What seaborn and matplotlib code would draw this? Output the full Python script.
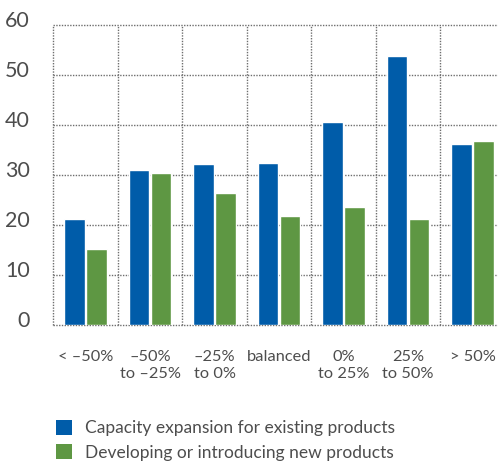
import matplotlib
matplotlib.use("Agg")
import matplotlib.pyplot as plt
import matplotlib.transforms as mtransforms
from matplotlib.patches import Patch
import seaborn as sns
import pandas as pd

categories = ["< \u201350%", "\u201350%\nto \u201325%", "\u201325%\nto 0%", "balanced",
              "0%\nto 25%", "25%\nto 50%", "> 50%"]
capacity = [21.2, 31.0, 32.2, 32.4, 40.6, 53.8, 36.2]
new_products = [15.2, 30.4, 26.4, 21.8, 23.6, 21.2, 36.8]
series_names = ["Capacity expansion for existing products",
                "Developing or introducing new products"]
y_ticks = [0, 10, 20, 30, 40, 50, 60]

BLUE = "#005CA9"
GREEN = "#5E9743"
TEXT = "#4d4d4d"
GRID = "#6e6e6e"

df = pd.DataFrame({
    "category": categories * 2,
    "value": capacity + new_products,
    "series": [series_names[0]] * len(categories) + [series_names[1]] * len(categories),
})

sns.set_theme(style="white")
plt.rcParams["font.family"] = ["Lato", "DejaVu Sans"]

fig = plt.figure(figsize=(4.98, 4.70), dpi=100)
ax = fig.add_axes([53.3 / 498, 145 / 470, 451.5 / 498, 300 / 470])

sns.barplot(data=df, x="category", y="value", hue="series", order=categories,
            hue_order=series_names, palette=[BLUE, GREEN], width=0.68, gap=0.06,
            saturation=1, legend=False, ax=ax, zorder=3)

ax.set_xlim(-0.5, len(categories) - 0.5)
ax.set_ylim(0, 60)
ax.set_xlabel("")
ax.set_ylabel("")

for s in ax.spines.values():
    s.set_visible(False)

dotted = dict(color=GRID, linestyle=(0, (1, 1)), linewidth=1.0, zorder=1, clip_on=False)
for y in y_ticks:
    ax.axhline(y, **dotted)
for i in range(len(categories)):
    ax.axvline(i - 0.5, **dotted)

ax.set_yticks(y_ticks)
ax.set_yticklabels([str(t) for t in y_ticks], fontsize=15.5, color=TEXT)
ax.tick_params(axis="y", length=0, pad=17)
offset = mtransforms.ScaledTranslation(0, 6 / 100, fig.dpi_scale_trans)
for lab in ax.get_yticklabels():
    lab.set_transform(lab.get_transform() + offset)

ax.set_xticks(range(len(categories)))
ax.set_xticklabels(categories, fontsize=11.8, color=TEXT, linespacing=1.3,
                   multialignment="center", va="top")
ax.tick_params(axis="x", length=0, pad=18)

handles = [Patch(facecolor=BLUE, edgecolor="none"), Patch(facecolor=GREEN, edgecolor="none")]
fig.legend(handles, series_names, loc="upper left", bbox_to_anchor=(49 / 498, 1 - 413 / 470),
           frameon=False, fontsize=12.5, labelcolor=TEXT, handlelength=0.95,
           handleheight=0.95, handletextpad=0.7, labelspacing=0.45, borderaxespad=0)

fig.savefig("out.png", dpi=100)
